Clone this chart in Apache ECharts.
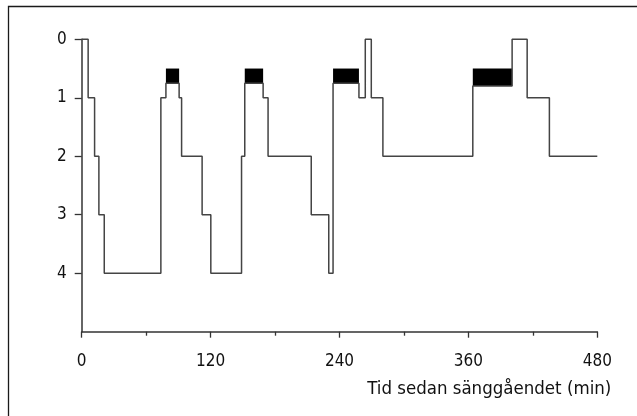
<!DOCTYPE html>
<html>
<head>
<meta charset="utf-8">
<script src="https://cdn.jsdelivr.net/npm/echarts@6/dist/echarts.min.js"></script>
<style>
  html, body { margin: 0; padding: 0; background: #fff; }
  #chart { width: 637px; height: 416px; }
</style>
</head>
<body>
<div id="chart"></div>
<script>
// Hypnogram: time (min) at which each stage begins, and the stage value
const stageTimes = [0, 6, 12, 16, 21, 73.7, 78.4, 90.7, 93, 112.1, 120.2, 148.8, 151.8, 168.9, 173.5, 213.7, 230, 234, 258.1, 264, 269.6, 280.4, 364.1, 400.7, 414.7, 435.4, 480];
const stageValues = [0, 1, 2, 3, 4, 1, 0.75, 1, 2, 3, 4, 2, 0.75, 1, 2, 3, 4, 0.75, 1, 0, 1, 2, 0.8, 0, 1, 2, 2];

// REM periods (black blocks)
const remStart = [78.4, 151.8, 234, 364.1];
const remEnd = [90.7, 168.9, 258.1, 400.7];
const remTop = [0.5, 0.5, 0.5, 0.5];
const remBottom = [0.75, 0.75, 0.75, 0.8];

// Axis ticks
const xTicks = [0, 120, 240, 360, 480];
const yTicks = [0, 1, 2, 3, 4];
const xAxisName = 'Tid sedan sänggåendet (min)';

const FONT = "'DejaVu Sans Condensed', 'Liberation Sans', sans-serif";

const lineData = stageTimes.map((t, i) => [t, stageValues[i]]);
const remAreas = remStart.map((s, i) => [
  { xAxis: s, yAxis: remTop[i] },
  { xAxis: remEnd[i], yAxis: remBottom[i] }
]);

const chart = echarts.init(document.getElementById('chart'), null, { renderer: 'canvas' });
chart.setOption({
  animation: false,
  backgroundColor: '#fff',
  grid: { left: 81.7, right: 39.7, top: 39.3, bottom: 84.3 },
  graphic: [{
    type: 'rect',
    shape: { x: 8.5, y: 6.5, width: 700, height: 500 },
    style: { fill: 'none', stroke: '#1a1a1a', lineWidth: 1.3 },
    z: -1
  }],
  xAxis: {
    type: 'value',
    min: xTicks[0],
    max: xTicks[xTicks.length - 1],
    interval: 120,
    axisLine: { show: true, onZero: false, lineStyle: { color: '#333', width: 1.5 } },
    axisTick: { show: true, length: 6, lineStyle: { color: '#333', width: 1.3 } },
    minorTick: { show: true, splitNumber: 2, length: 4, lineStyle: { color: '#333', width: 1.3 } },
    splitLine: { show: false },
    axisLabel: { fontFamily: FONT, fontSize: 17, color: '#111', margin: 21 },
    name: xAxisName,
    nameLocation: 'end',
    nameGap: 14,
    nameTextStyle: {
      fontFamily: FONT, fontSize: 18.5, color: '#111',
      align: 'right', verticalAlign: 'top', padding: [48, 0, 0, 0]
    }
  },
  yAxis: {
    type: 'value',
    inverse: true,
    min: 0,
    max: 5,
    interval: 1,
    axisLine: { show: true, onZero: false, lineStyle: { color: '#333', width: 1.5 } },
    axisTick: { show: true, length: 7, customValues: yTicks, lineStyle: { color: '#333', width: 1.3 } },
    splitLine: { show: false },
    axisLabel: {
      fontFamily: FONT, fontSize: 17, color: '#111', margin: 15,
      customValues: yTicks,
      formatter: v => (yTicks.indexOf(v) >= 0 ? String(v) : '')
    }
  },
  series: [{
    type: 'line',
    step: 'end',
    data: lineData,
    showSymbol: false,
    symbol: 'none',
    clip: false,
    lineStyle: { color: '#444', width: 1.5 },
    markArea: {
      silent: true,
      itemStyle: { color: '#000', opacity: 1 },
      data: remAreas
    },
    z: 3
  }]
});
</script>
</body>
</html>
